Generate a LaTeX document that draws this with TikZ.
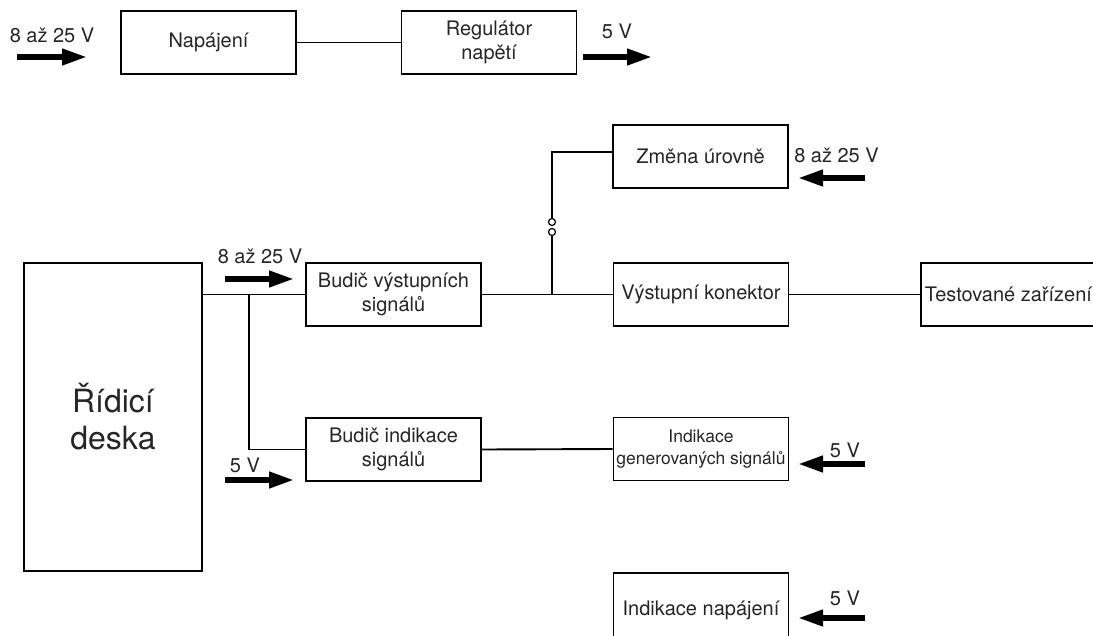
\documentclass[tikz,border=0pt]{standalone}
\usepackage{fontspec}
\setmainfont{TeX Gyre Heros}
\usetikzlibrary{arrows.meta}
\begin{document}
\begin{tikzpicture}[x=1pt,y=-1pt,
  box/.style={draw, line width=1.9pt, minimum width=175pt, minimum height=63pt, inner sep=0pt, align=center, text=black!85, font=\fontsize{20}{24}\selectfont},
  wire/.style={line width=1.9pt},
  fat/.style={line width=6.5pt, -{Triangle[length=26pt,width=15pt]}},
  lab/.style={anchor=base, inner sep=0pt, text=black!85, font=\fontsize{20}{24}\selectfont},
  ring/.style={circle, draw, line width=1.2pt, minimum size=7pt, inner sep=0pt}
]
\useasboundingbox (0,0) rectangle (1093,635);
\fill[white] (0,0) rectangle (1093,635);

% boxes
\node[box] (nap) at (208.5,42.5) {Napájení};
\node[box] (reg) at (489,42.5) {Regulátor\\napětí};
\node[box, minimum width=178pt, minimum height=308pt, font=\fontsize{32}{37}\selectfont] (rid) at (113,417) {Řídicí\\deska};
\node[box] (bv) at (393.5,294.5) {Budič výstupních\\signálů};
\node[box] (zm) at (700.5,156.5) {Změna úrovně};
\node[box] (vk) at (701,294.5) {Výstupní konektor};
\node[box] (tz) at (1008.5,294.5) {Testované zařízení};
\node[box] (bi) at (393.5,449.5) {Budič indikace\\signálů};
\node[box, font=\fontsize{17.5}{22}\selectfont] (ig) at (701,449) {Indikace\\generovaných signálů};
\node[box, minimum height=74pt] (inp) at (701,610) {\raisebox{4pt}{Indikace napájení}};

% switch contacts
\node[ring] (c1) at (552,222) {};
\node[ring] (c2) at (552,232) {};

% wires
\coordinate (j1) at (249,294.5);
\coordinate (j2) at (552,294.5);
\draw[wire] (nap.east) -- (reg.west);
\draw[wire] (rid.east |- bv.west) -- (bv.west);
\draw[wire] (j1) |- (bi.west);
\draw[wire] (bv.east) -- (vk.west);
\draw[wire] (j2) -- (c2.south);
\draw[wire] (c1.north) |- ([yshift=4.5pt]zm.west);
\draw[wire] (vk.east) -- (tz.west);
\draw[wire] (bi.east) -- (ig.west);

% supply arrows
\coordinate (a1s) at (17,57);   \coordinate (a1e) at (88,57);
\coordinate (a2s) at (583,57);  \coordinate (a2e) at (653,57);
\coordinate (a3s) at (865,178); \coordinate (a3e) at (797,178);
\coordinate (a4s) at (225,279); \coordinate (a4e) at (295,279);
\coordinate (a5s) at (225,480); \coordinate (a5e) at (295,480);
\coordinate (a6s) at (865,464); \coordinate (a6e) at (797,464);
\coordinate (a7s) at (865,618); \coordinate (a7e) at (797,618);
\draw[fat] (a1s) -- (a1e);
\draw[fat] (a2s) -- (a2e);
\draw[fat] (a3s) -- (a3e);
\draw[fat] (a4s) -- (a4e);
\draw[fat] (a5s) -- (a5e);
\draw[fat] (a6s) -- (a6e);
\draw[fat] (a7s) -- (a7e);

% labels
\node[lab] (l1) at (52,42) {8 až 25 V};
\node[lab] (l2) at (617,38) {5 V};
\node[lab] (l3) at (836.5,162) {8 až 25 V};
\node[lab] (l4) at (260,263) {8 až 25 V};
\node[lab] (l5) at (245,472) {5 V};
\node[lab] (l6) at (845,457) {5 V};
\node[lab] (l7) at (845,605) {5 V};
\end{tikzpicture}
\end{document}
